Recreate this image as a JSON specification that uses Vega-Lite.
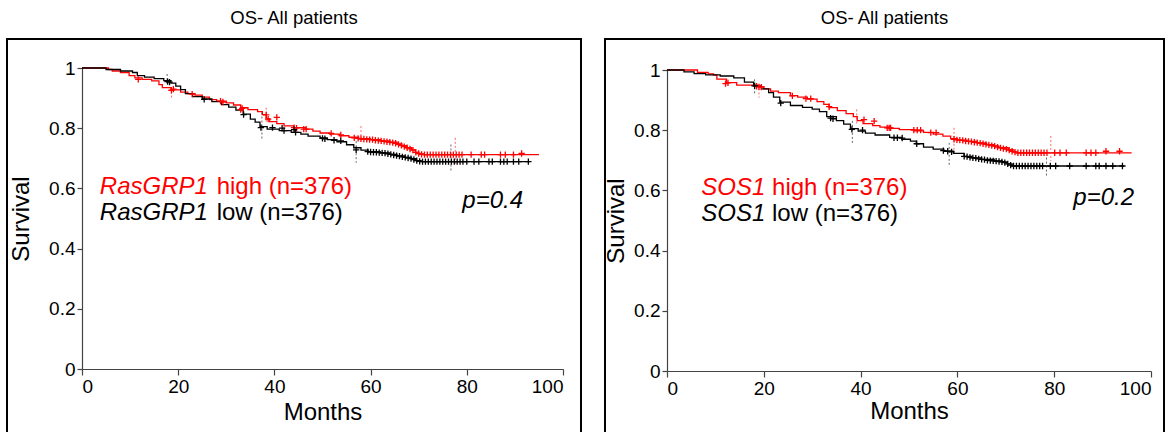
{
  "$schema": "https://vega.github.io/schema/vega-lite/v6.json",
  "padding": {"left": 6, "top": 7, "right": 7, "bottom": -8},
  "spacing": 21,
  "config": {
    "font": "Liberation Sans",
    "view": {"stroke": "#000000", "strokeWidth": 2},
    "title": {"fontSize": 18.5, "fontWeight": "normal", "font": "Liberation Sans", "color": "#000000", "offset": 12, "frame": "group", "anchor": "middle"},
    "axis": {"grid": false, "labelFont": "Liberation Sans", "titleFont": "Liberation Sans", "labelFontSize": 19, "titleFontSize": 24, "titleFontWeight": "normal", "labelColor": "#000000", "titleColor": "#000000", "domainColor": "#444444", "tickColor": "#444444", "domainWidth": 1.2, "tickWidth": 1.2},
    "text": {"font": "Liberation Sans"}
  },
  "datasets": {
    "km": [
      {"p":"A","g":"high","m":0,"s":1},{"p":"A","g":"high","m":4,"s":1},{"p":"A","g":"high","m":5.5,"s":0.995},{"p":"A","g":"high","m":6.3,"s":0.99},{"p":"A","g":"high","m":8,"s":0.985},{"p":"A","g":"high","m":9.8,"s":0.975},{"p":"A","g":"high","m":11,"s":0.967},{"p":"A","g":"high","m":12.5,"s":0.962},{"p":"A","g":"high","m":14.5,"s":0.957},{"p":"A","g":"high","m":16,"s":0.945},{"p":"A","g":"high","m":16.7,"s":0.935},{"p":"A","g":"high","m":18.5,"s":0.927},{"p":"A","g":"high","m":20.5,"s":0.92},{"p":"A","g":"high","m":22,"s":0.915},{"p":"A","g":"high","m":23.5,"s":0.91},{"p":"A","g":"high","m":25,"s":0.903},{"p":"A","g":"high","m":26.5,"s":0.895},{"p":"A","g":"high","m":28,"s":0.89},{"p":"A","g":"high","m":30,"s":0.884},{"p":"A","g":"high","m":31.5,"s":0.877},{"p":"A","g":"high","m":33,"s":0.868},{"p":"A","g":"high","m":34.5,"s":0.862},{"p":"A","g":"high","m":36.5,"s":0.855},{"p":"A","g":"high","m":37.5,"s":0.845},{"p":"A","g":"high","m":38.3,"s":0.832},{"p":"A","g":"high","m":39,"s":0.822},{"p":"A","g":"high","m":40.5,"s":0.815},{"p":"A","g":"high","m":42,"s":0.808},{"p":"A","g":"high","m":44,"s":0.802},{"p":"A","g":"high","m":46.5,"s":0.797},{"p":"A","g":"high","m":48,"s":0.79},{"p":"A","g":"high","m":49.5,"s":0.784},{"p":"A","g":"high","m":51.5,"s":0.78},{"p":"A","g":"high","m":53.5,"s":0.775},{"p":"A","g":"high","m":55.5,"s":0.77},{"p":"A","g":"high","m":57.5,"s":0.765},{"p":"A","g":"high","m":60,"s":0.762},{"p":"A","g":"high","m":62,"s":0.758},{"p":"A","g":"high","m":64,"s":0.754},{"p":"A","g":"high","m":65.5,"s":0.748},{"p":"A","g":"high","m":66.5,"s":0.742},{"p":"A","g":"high","m":67.5,"s":0.735},{"p":"A","g":"high","m":68.5,"s":0.728},{"p":"A","g":"high","m":69.3,"s":0.72},{"p":"A","g":"high","m":70,"s":0.715},{"p":"A","g":"high","m":71,"s":0.712},{"p":"A","g":"high","m":95,"s":0.712},
      {"p":"A","g":"low","m":0,"s":1},{"p":"A","g":"low","m":3,"s":1},{"p":"A","g":"low","m":5,"s":0.995},{"p":"A","g":"low","m":8,"s":0.99},{"p":"A","g":"low","m":10.5,"s":0.985},{"p":"A","g":"low","m":11.5,"s":0.975},{"p":"A","g":"low","m":13,"s":0.97},{"p":"A","g":"low","m":15,"s":0.965},{"p":"A","g":"low","m":17,"s":0.958},{"p":"A","g":"low","m":18.5,"s":0.95},{"p":"A","g":"low","m":19.5,"s":0.94},{"p":"A","g":"low","m":20.5,"s":0.928},{"p":"A","g":"low","m":21.5,"s":0.915},{"p":"A","g":"low","m":23,"s":0.905},{"p":"A","g":"low","m":25,"s":0.897},{"p":"A","g":"low","m":27,"s":0.888},{"p":"A","g":"low","m":29,"s":0.878},{"p":"A","g":"low","m":30.5,"s":0.87},{"p":"A","g":"low","m":32,"s":0.86},{"p":"A","g":"low","m":33.5,"s":0.847},{"p":"A","g":"low","m":35,"s":0.83},{"p":"A","g":"low","m":36,"s":0.82},{"p":"A","g":"low","m":37,"s":0.805},{"p":"A","g":"low","m":38.5,"s":0.797},{"p":"A","g":"low","m":41,"s":0.792},{"p":"A","g":"low","m":43.5,"s":0.786},{"p":"A","g":"low","m":45.5,"s":0.78},{"p":"A","g":"low","m":47,"s":0.774},{"p":"A","g":"low","m":49.5,"s":0.768},{"p":"A","g":"low","m":51,"s":0.762},{"p":"A","g":"low","m":53,"s":0.755},{"p":"A","g":"low","m":55,"s":0.745},{"p":"A","g":"low","m":56.5,"s":0.735},{"p":"A","g":"low","m":58,"s":0.727},{"p":"A","g":"low","m":59.5,"s":0.722},{"p":"A","g":"low","m":62,"s":0.718},{"p":"A","g":"low","m":64,"s":0.713},{"p":"A","g":"low","m":65.5,"s":0.708},{"p":"A","g":"low","m":67,"s":0.703},{"p":"A","g":"low","m":68.5,"s":0.699},{"p":"A","g":"low","m":69.5,"s":0.692},{"p":"A","g":"low","m":70.5,"s":0.689},{"p":"A","g":"low","m":93,"s":0.689},
      {"p":"B","g":"high","m":0,"s":1},{"p":"B","g":"high","m":5,"s":1},{"p":"B","g":"high","m":6.3,"s":0.992},{"p":"B","g":"high","m":8.5,"s":0.987},{"p":"B","g":"high","m":9.6,"s":0.983},{"p":"B","g":"high","m":10.3,"s":0.97},{"p":"B","g":"high","m":12.3,"s":0.958},{"p":"B","g":"high","m":14.4,"s":0.95},{"p":"B","g":"high","m":18.8,"s":0.945},{"p":"B","g":"high","m":20,"s":0.937},{"p":"B","g":"high","m":21.4,"s":0.93},{"p":"B","g":"high","m":23,"s":0.925},{"p":"B","g":"high","m":25.5,"s":0.915},{"p":"B","g":"high","m":27,"s":0.91},{"p":"B","g":"high","m":29,"s":0.903},{"p":"B","g":"high","m":31,"s":0.895},{"p":"B","g":"high","m":32.4,"s":0.886},{"p":"B","g":"high","m":33.5,"s":0.875},{"p":"B","g":"high","m":35.2,"s":0.865},{"p":"B","g":"high","m":37,"s":0.855},{"p":"B","g":"high","m":38.5,"s":0.845},{"p":"B","g":"high","m":39.3,"s":0.832},{"p":"B","g":"high","m":40.5,"s":0.822},{"p":"B","g":"high","m":42.5,"s":0.815},{"p":"B","g":"high","m":44,"s":0.81},{"p":"B","g":"high","m":46,"s":0.806},{"p":"B","g":"high","m":48,"s":0.802},{"p":"B","g":"high","m":51,"s":0.798},{"p":"B","g":"high","m":53,"s":0.793},{"p":"B","g":"high","m":55,"s":0.787},{"p":"B","g":"high","m":57,"s":0.78},{"p":"B","g":"high","m":58.6,"s":0.772},{"p":"B","g":"high","m":60,"s":0.767},{"p":"B","g":"high","m":62,"s":0.763},{"p":"B","g":"high","m":64,"s":0.758},{"p":"B","g":"high","m":66,"s":0.752},{"p":"B","g":"high","m":67.5,"s":0.748},{"p":"B","g":"high","m":68.5,"s":0.742},{"p":"B","g":"high","m":70.5,"s":0.735},{"p":"B","g":"high","m":71.5,"s":0.728},{"p":"B","g":"high","m":72.2,"s":0.725},{"p":"B","g":"high","m":96,"s":0.725},
      {"p":"B","g":"low","m":0,"s":1},{"p":"B","g":"low","m":2.5,"s":1},{"p":"B","g":"low","m":3.5,"s":0.994},{"p":"B","g":"low","m":5.6,"s":0.988},{"p":"B","g":"low","m":8,"s":0.984},{"p":"B","g":"low","m":11,"s":0.98},{"p":"B","g":"low","m":13.8,"s":0.974},{"p":"B","g":"low","m":16,"s":0.96},{"p":"B","g":"low","m":17.9,"s":0.947},{"p":"B","g":"low","m":19.5,"s":0.937},{"p":"B","g":"low","m":21,"s":0.925},{"p":"B","g":"low","m":22,"s":0.91},{"p":"B","g":"low","m":23.3,"s":0.893},{"p":"B","g":"low","m":25.5,"s":0.882},{"p":"B","g":"low","m":28,"s":0.876},{"p":"B","g":"low","m":30,"s":0.87},{"p":"B","g":"low","m":31.5,"s":0.862},{"p":"B","g":"low","m":33,"s":0.845},{"p":"B","g":"low","m":35,"s":0.832},{"p":"B","g":"low","m":36.5,"s":0.82},{"p":"B","g":"low","m":37.9,"s":0.805},{"p":"B","g":"low","m":39.5,"s":0.797},{"p":"B","g":"low","m":41,"s":0.79},{"p":"B","g":"low","m":43,"s":0.784},{"p":"B","g":"low","m":46,"s":0.776},{"p":"B","g":"low","m":48.5,"s":0.77},{"p":"B","g":"low","m":50.3,"s":0.764},{"p":"B","g":"low","m":51.5,"s":0.755},{"p":"B","g":"low","m":53,"s":0.744},{"p":"B","g":"low","m":55,"s":0.737},{"p":"B","g":"low","m":57.2,"s":0.73},{"p":"B","g":"low","m":59.2,"s":0.723},{"p":"B","g":"low","m":61.4,"s":0.713},{"p":"B","g":"low","m":63,"s":0.708},{"p":"B","g":"low","m":65,"s":0.703},{"p":"B","g":"low","m":67.6,"s":0.698},{"p":"B","g":"low","m":69.3,"s":0.695},{"p":"B","g":"low","m":70.3,"s":0.688},{"p":"B","g":"low","m":71.3,"s":0.681},{"p":"B","g":"low","m":94.4,"s":0.681}
    ],
    "cens": [
      {"p":"A","g":"high","m":11.7,"s":0.962},{"p":"A","g":"high","m":18.6,"s":0.926},{"p":"A","g":"high","m":19,"s":0.93},{"p":"A","g":"high","m":22.9,"s":0.913},{"p":"A","g":"high","m":28.8,"s":0.89},{"p":"A","g":"high","m":29.3,"s":0.887},{"p":"A","g":"high","m":33,"s":0.862},{"p":"A","g":"high","m":33.3,"s":0.866},{"p":"A","g":"high","m":38.3,"s":0.844},{"p":"A","g":"high","m":38.7,"s":0.83},{"p":"A","g":"high","m":40.5,"s":0.836},{"p":"A","g":"high","m":44.1,"s":0.802},{"p":"A","g":"high","m":44.6,"s":0.8},{"p":"A","g":"high","m":46.1,"s":0.797},{"p":"A","g":"high","m":46.6,"s":0.797},{"p":"A","g":"high","m":51.8,"s":0.783},{"p":"A","g":"high","m":53.8,"s":0.778},{"p":"A","g":"high","m":56.6,"s":0.768},{"p":"A","g":"high","m":57.4,"s":0.766},{"p":"A","g":"high","m":58,"s":0.765},{"p":"A","g":"high","m":58.6,"s":0.764},{"p":"A","g":"high","m":59.2,"s":0.763},{"p":"A","g":"high","m":59.8,"s":0.762},{"p":"A","g":"high","m":60.4,"s":0.762},{"p":"A","g":"high","m":61,"s":0.76},{"p":"A","g":"high","m":61.6,"s":0.759},{"p":"A","g":"high","m":62.2,"s":0.758},{"p":"A","g":"high","m":62.8,"s":0.756},{"p":"A","g":"high","m":63.4,"s":0.755},{"p":"A","g":"high","m":64,"s":0.754},{"p":"A","g":"high","m":64.6,"s":0.752},{"p":"A","g":"high","m":65.2,"s":0.75},{"p":"A","g":"high","m":65.8,"s":0.746},{"p":"A","g":"high","m":66.4,"s":0.743},{"p":"A","g":"high","m":67,"s":0.739},{"p":"A","g":"high","m":67.6,"s":0.735},{"p":"A","g":"high","m":68.2,"s":0.731},{"p":"A","g":"high","m":68.8,"s":0.727},{"p":"A","g":"high","m":69.4,"s":0.72},{"p":"A","g":"high","m":70,"s":0.716},{"p":"A","g":"high","m":70.6,"s":0.713},{"p":"A","g":"high","m":71.2,"s":0.712},{"p":"A","g":"high","m":71.8,"s":0.712},{"p":"A","g":"high","m":72.4,"s":0.712},{"p":"A","g":"high","m":73,"s":0.712},{"p":"A","g":"high","m":73.6,"s":0.712},{"p":"A","g":"high","m":74.2,"s":0.712},{"p":"A","g":"high","m":74.8,"s":0.712},{"p":"A","g":"high","m":75.4,"s":0.712},{"p":"A","g":"high","m":76,"s":0.712},{"p":"A","g":"high","m":76.6,"s":0.712},{"p":"A","g":"high","m":77.2,"s":0.712},{"p":"A","g":"high","m":77.8,"s":0.712},{"p":"A","g":"high","m":78.4,"s":0.712},{"p":"A","g":"high","m":79,"s":0.712},{"p":"A","g":"high","m":80.9,"s":0.712},{"p":"A","g":"high","m":83,"s":0.712},{"p":"A","g":"high","m":83.7,"s":0.712},{"p":"A","g":"high","m":87,"s":0.712},{"p":"A","g":"high","m":88,"s":0.712},{"p":"A","g":"high","m":89.7,"s":0.712},{"p":"A","g":"high","m":91.4,"s":0.716},
      {"p":"A","g":"low","m":17.8,"s":0.955},{"p":"A","g":"low","m":18.2,"s":0.953},{"p":"A","g":"low","m":25.4,"s":0.896},{"p":"A","g":"low","m":33.6,"s":0.845},{"p":"A","g":"low","m":37.2,"s":0.802},{"p":"A","g":"low","m":39.6,"s":0.802},{"p":"A","g":"low","m":41.6,"s":0.8},{"p":"A","g":"low","m":42,"s":0.792},{"p":"A","g":"low","m":44.1,"s":0.795},{"p":"A","g":"low","m":44.4,"s":0.786},{"p":"A","g":"low","m":50,"s":0.766},{"p":"A","g":"low","m":50.5,"s":0.765},{"p":"A","g":"low","m":52.4,"s":0.76},{"p":"A","g":"low","m":53.8,"s":0.758},{"p":"A","g":"low","m":57,"s":0.728},{"p":"A","g":"low","m":59.4,"s":0.722},{"p":"A","g":"low","m":60,"s":0.721},{"p":"A","g":"low","m":60.6,"s":0.72},{"p":"A","g":"low","m":61.2,"s":0.72},{"p":"A","g":"low","m":61.8,"s":0.719},{"p":"A","g":"low","m":62.4,"s":0.718},{"p":"A","g":"low","m":63,"s":0.717},{"p":"A","g":"low","m":63.6,"s":0.715},{"p":"A","g":"low","m":64.2,"s":0.713},{"p":"A","g":"low","m":64.8,"s":0.711},{"p":"A","g":"low","m":65.4,"s":0.709},{"p":"A","g":"low","m":66,"s":0.707},{"p":"A","g":"low","m":66.6,"s":0.705},{"p":"A","g":"low","m":67.2,"s":0.703},{"p":"A","g":"low","m":67.8,"s":0.701},{"p":"A","g":"low","m":68.4,"s":0.699},{"p":"A","g":"low","m":69,"s":0.696},{"p":"A","g":"low","m":69.6,"s":0.692},{"p":"A","g":"low","m":70.2,"s":0.69},{"p":"A","g":"low","m":70.8,"s":0.689},{"p":"A","g":"low","m":71.4,"s":0.689},{"p":"A","g":"low","m":72,"s":0.689},{"p":"A","g":"low","m":72.6,"s":0.689},{"p":"A","g":"low","m":73.2,"s":0.689},{"p":"A","g":"low","m":73.8,"s":0.689},{"p":"A","g":"low","m":74.4,"s":0.689},{"p":"A","g":"low","m":75,"s":0.689},{"p":"A","g":"low","m":75.6,"s":0.689},{"p":"A","g":"low","m":76.2,"s":0.689},{"p":"A","g":"low","m":76.8,"s":0.689},{"p":"A","g":"low","m":77.4,"s":0.689},{"p":"A","g":"low","m":78,"s":0.689},{"p":"A","g":"low","m":78.6,"s":0.689},{"p":"A","g":"low","m":79.2,"s":0.689},{"p":"A","g":"low","m":80,"s":0.689},{"p":"A","g":"low","m":81.5,"s":0.689},{"p":"A","g":"low","m":82.5,"s":0.689},{"p":"A","g":"low","m":84.6,"s":0.689},{"p":"A","g":"low","m":85.3,"s":0.689},{"p":"A","g":"low","m":87,"s":0.689},{"p":"A","g":"low","m":87.7,"s":0.689},{"p":"A","g":"low","m":88.4,"s":0.689},{"p":"A","g":"low","m":89.7,"s":0.689},{"p":"A","g":"low","m":90.8,"s":0.689},{"p":"A","g":"low","m":92.8,"s":0.689},
      {"p":"B","g":"high","m":12.1,"s":0.955},{"p":"B","g":"high","m":12.6,"s":0.957},{"p":"B","g":"high","m":18.5,"s":0.946},{"p":"B","g":"high","m":19,"s":0.944},{"p":"B","g":"high","m":19.5,"s":0.943},{"p":"B","g":"high","m":25.9,"s":0.914},{"p":"B","g":"high","m":28.7,"s":0.905},{"p":"B","g":"high","m":29.7,"s":0.905},{"p":"B","g":"high","m":33.5,"s":0.878},{"p":"B","g":"high","m":40.7,"s":0.835},{"p":"B","g":"high","m":42.8,"s":0.83},{"p":"B","g":"high","m":45.5,"s":0.808},{"p":"B","g":"high","m":45.9,"s":0.808},{"p":"B","g":"high","m":46.2,"s":0.808},{"p":"B","g":"high","m":51,"s":0.8},{"p":"B","g":"high","m":51.7,"s":0.8},{"p":"B","g":"high","m":52.4,"s":0.8},{"p":"B","g":"high","m":54.5,"s":0.792},{"p":"B","g":"high","m":55.6,"s":0.792},{"p":"B","g":"high","m":59.3,"s":0.77},{"p":"B","g":"high","m":59.9,"s":0.768},{"p":"B","g":"high","m":60.5,"s":0.767},{"p":"B","g":"high","m":61.1,"s":0.766},{"p":"B","g":"high","m":61.7,"s":0.764},{"p":"B","g":"high","m":62.3,"s":0.763},{"p":"B","g":"high","m":62.9,"s":0.762},{"p":"B","g":"high","m":63.5,"s":0.76},{"p":"B","g":"high","m":64.1,"s":0.759},{"p":"B","g":"high","m":64.7,"s":0.757},{"p":"B","g":"high","m":65.3,"s":0.755},{"p":"B","g":"high","m":65.9,"s":0.753},{"p":"B","g":"high","m":66.5,"s":0.751},{"p":"B","g":"high","m":67.1,"s":0.749},{"p":"B","g":"high","m":67.7,"s":0.747},{"p":"B","g":"high","m":68.3,"s":0.744},{"p":"B","g":"high","m":68.9,"s":0.741},{"p":"B","g":"high","m":69.5,"s":0.739},{"p":"B","g":"high","m":70.1,"s":0.737},{"p":"B","g":"high","m":70.7,"s":0.734},{"p":"B","g":"high","m":71.3,"s":0.73},{"p":"B","g":"high","m":71.9,"s":0.727},{"p":"B","g":"high","m":72.5,"s":0.725},{"p":"B","g":"high","m":73.1,"s":0.725},{"p":"B","g":"high","m":73.7,"s":0.725},{"p":"B","g":"high","m":74.3,"s":0.725},{"p":"B","g":"high","m":74.9,"s":0.725},{"p":"B","g":"high","m":75.5,"s":0.725},{"p":"B","g":"high","m":76.1,"s":0.725},{"p":"B","g":"high","m":76.7,"s":0.725},{"p":"B","g":"high","m":77.3,"s":0.725},{"p":"B","g":"high","m":77.9,"s":0.725},{"p":"B","g":"high","m":78.5,"s":0.725},{"p":"B","g":"high","m":80.1,"s":0.725},{"p":"B","g":"high","m":81.2,"s":0.725},{"p":"B","g":"high","m":82.5,"s":0.725},{"p":"B","g":"high","m":86.6,"s":0.725},{"p":"B","g":"high","m":87.6,"s":0.725},{"p":"B","g":"high","m":88.6,"s":0.725},{"p":"B","g":"high","m":90.7,"s":0.73},{"p":"B","g":"high","m":93.5,"s":0.73},
      {"p":"B","g":"low","m":18.1,"s":0.947},{"p":"B","g":"low","m":23.5,"s":0.89},{"p":"B","g":"low","m":33.8,"s":0.84},{"p":"B","g":"low","m":34.3,"s":0.838},{"p":"B","g":"low","m":38.2,"s":0.803},{"p":"B","g":"low","m":40.4,"s":0.8},{"p":"B","g":"low","m":46.9,"s":0.775},{"p":"B","g":"low","m":47.6,"s":0.775},{"p":"B","g":"low","m":48.6,"s":0.774},{"p":"B","g":"low","m":51.6,"s":0.755},{"p":"B","g":"low","m":57.1,"s":0.732},{"p":"B","g":"low","m":58,"s":0.73},{"p":"B","g":"low","m":58.8,"s":0.728},{"p":"B","g":"low","m":61.4,"s":0.713},{"p":"B","g":"low","m":62,"s":0.712},{"p":"B","g":"low","m":62.6,"s":0.71},{"p":"B","g":"low","m":63.2,"s":0.708},{"p":"B","g":"low","m":63.8,"s":0.707},{"p":"B","g":"low","m":64.4,"s":0.705},{"p":"B","g":"low","m":65,"s":0.703},{"p":"B","g":"low","m":65.6,"s":0.702},{"p":"B","g":"low","m":66.2,"s":0.7},{"p":"B","g":"low","m":66.8,"s":0.699},{"p":"B","g":"low","m":67.4,"s":0.698},{"p":"B","g":"low","m":68,"s":0.697},{"p":"B","g":"low","m":68.6,"s":0.696},{"p":"B","g":"low","m":69.2,"s":0.695},{"p":"B","g":"low","m":69.8,"s":0.692},{"p":"B","g":"low","m":70.4,"s":0.688},{"p":"B","g":"low","m":71,"s":0.684},{"p":"B","g":"low","m":71.6,"s":0.681},{"p":"B","g":"low","m":72.2,"s":0.681},{"p":"B","g":"low","m":72.8,"s":0.681},{"p":"B","g":"low","m":73.4,"s":0.681},{"p":"B","g":"low","m":74,"s":0.681},{"p":"B","g":"low","m":74.6,"s":0.681},{"p":"B","g":"low","m":75.2,"s":0.681},{"p":"B","g":"low","m":75.8,"s":0.681},{"p":"B","g":"low","m":76.4,"s":0.681},{"p":"B","g":"low","m":77,"s":0.681},{"p":"B","g":"low","m":77.6,"s":0.681},{"p":"B","g":"low","m":79.2,"s":0.681},{"p":"B","g":"low","m":80.3,"s":0.681},{"p":"B","g":"low","m":83.2,"s":0.681},{"p":"B","g":"low","m":86.6,"s":0.681},{"p":"B","g":"low","m":88.6,"s":0.681},{"p":"B","g":"low","m":89.3,"s":0.681},{"p":"B","g":"low","m":90.7,"s":0.681},{"p":"B","g":"low","m":92.1,"s":0.681},{"p":"B","g":"low","m":94.1,"s":0.681}
    ],
    "ci": [
      {"p":"A","g":"low","m":17.7,"s":0.98,"s2":0.947},{"p":"A","g":"low","m":37.4,"s":0.852,"s2":0.763},{"p":"A","g":"low","m":57,"s":0.757,"s2":0.685},{"p":"A","g":"low","m":76.7,"s":0.746,"s2":0.658},
      {"p":"A","g":"high","m":18.6,"s":0.935,"s2":0.9},{"p":"A","g":"high","m":38.3,"s":0.868,"s2":0.818},{"p":"A","g":"high","m":58,"s":0.807,"s2":0.757},{"p":"A","g":"high","m":77.6,"s":0.768,"s2":0.68},
      {"p":"B","g":"low","m":18.1,"s":0.969,"s2":0.919},{"p":"B","g":"low","m":38.3,"s":0.831,"s2":0.758},{"p":"B","g":"low","m":58.3,"s":0.758,"s2":0.681},{"p":"B","g":"low","m":78.4,"s":0.709,"s2":0.648},
      {"p":"B","g":"high","m":19,"s":0.952,"s2":0.908},{"p":"B","g":"high","m":39.2,"s":0.869,"s2":0.82},{"p":"B","g":"high","m":59.3,"s":0.808,"s2":0.731},{"p":"B","g":"high","m":79.3,"s":0.781,"s2":0.698}
    ]
  },
  "hconcat": [
    {
      "width": 574,
      "height": 400,
      "title": "OS- All patients",
      "layer": [
        {"data": {"name": "km"}, "transform": [{"filter": "datum.p === 'A'"}], "mark": {"type": "line", "interpolate": "step-after", "strokeWidth": 1.3},
         "encoding": {
           "x": {"field": "m", "type": "quantitative", "scale": {"domain": [0, 100], "range": [75, 556], "nice": false, "zero": false}, "axis": {"values": [0, 20, 40, 60, 80, 100], "offset": -70, "tickSize": 6, "labelPadding": 2, "title": "Months", "titleY": 43, "titleBaseline": "middle"}},
           "y": {"field": "s", "type": "quantitative", "scale": {"domain": [0, 1], "range": [330, 29], "nice": false, "zero": false}, "axis": {"values": [0, 0.2, 0.4, 0.6, 0.8, 1], "format": "~g", "offset": -75, "tickSize": 5, "labelPadding": 2, "title": "Survival", "titleX": -61, "titleBaseline": "middle"}},
           "color": {"field": "g", "type": "nominal", "scale": {"domain": ["high", "low"], "range": ["#ff0000", "#000000"]}, "legend": null}}},
        {"data": {"name": "ci"}, "transform": [{"filter": "datum.p === 'A'"}], "mark": {"type": "rule", "strokeDash": [2, 2], "strokeWidth": 1, "opacity": 0.6},
         "encoding": {"x": {"field": "m", "type": "quantitative"}, "y": {"field": "s", "type": "quantitative"}, "y2": {"field": "s2"}, "color": {"field": "g", "type": "nominal", "legend": null}}},
        {"data": {"name": "cens"}, "transform": [{"filter": "datum.p === 'A'"}], "mark": {"type": "point", "shape": "M-1,0H1M0,-1V1", "filled": false, "size": 40, "strokeWidth": 1.3, "opacity": 1},
         "encoding": {"x": {"field": "m", "type": "quantitative"}, "y": {"field": "s", "type": "quantitative"}, "color": {"field": "g", "type": "nominal", "legend": null}}},
        {"data": {"values": [{}]}, "mark": {"type": "text", "text": "RasGRP1", "fontStyle": "italic", "fontSize": 24, "align": "left", "baseline": "middle", "color": "#ff0000"}, "encoding": {"x": {"datum": 3.7, "type": "quantitative"}, "y": {"datum": 0.605, "type": "quantitative"}}},
        {"data": {"values": [{}]}, "mark": {"type": "text", "text": "high (n=376)", "fontSize": 24, "align": "left", "baseline": "middle", "color": "#ff0000"}, "encoding": {"x": {"datum": 28, "type": "quantitative"}, "y": {"datum": 0.605, "type": "quantitative"}}},
        {"data": {"values": [{}]}, "mark": {"type": "text", "text": "RasGRP1", "fontStyle": "italic", "fontSize": 24, "align": "left", "baseline": "middle", "color": "#000000"}, "encoding": {"x": {"datum": 3.7, "type": "quantitative"}, "y": {"datum": 0.518, "type": "quantitative"}}},
        {"data": {"values": [{}]}, "mark": {"type": "text", "text": "low (n=376)", "fontSize": 24, "align": "left", "baseline": "middle", "color": "#000000"}, "encoding": {"x": {"datum": 28, "type": "quantitative"}, "y": {"datum": 0.518, "type": "quantitative"}}},
        {"data": {"values": [{}]}, "mark": {"type": "text", "text": "p=0.4", "fontStyle": "italic", "fontSize": 24, "align": "right", "baseline": "middle", "color": "#000000"}, "encoding": {"x": {"datum": 91.7, "type": "quantitative"}, "y": {"datum": 0.558, "type": "quantitative"}}}
      ]
    },
    {
      "width": 559,
      "height": 400,
      "title": "OS- All patients",
      "layer": [
        {"data": {"name": "km"}, "transform": [{"filter": "datum.p === 'B'"}], "mark": {"type": "line", "interpolate": "step-after", "strokeWidth": 1.3},
         "encoding": {
           "x": {"field": "m", "type": "quantitative", "scale": {"domain": [0, 100], "range": [62, 546], "nice": false, "zero": false}, "axis": {"values": [0, 20, 40, 60, 80, 100], "offset": -68, "tickSize": 6, "labelPadding": 2, "title": "Months", "titleY": 40, "titleBaseline": "middle"}},
           "y": {"field": "s", "type": "quantitative", "scale": {"domain": [0, 1], "range": [332, 31], "nice": false, "zero": false}, "axis": {"values": [0, 0.2, 0.4, 0.6, 0.8, 1], "format": "~g", "offset": -62, "tickSize": 5, "labelPadding": 2, "title": "Survival", "titleX": -51, "titleBaseline": "middle"}},
           "color": {"field": "g", "type": "nominal", "scale": {"domain": ["high", "low"], "range": ["#ff0000", "#000000"]}, "legend": null}}},
        {"data": {"name": "ci"}, "transform": [{"filter": "datum.p === 'B'"}], "mark": {"type": "rule", "strokeDash": [2, 2], "strokeWidth": 1, "opacity": 0.6},
         "encoding": {"x": {"field": "m", "type": "quantitative"}, "y": {"field": "s", "type": "quantitative"}, "y2": {"field": "s2"}, "color": {"field": "g", "type": "nominal", "legend": null}}},
        {"data": {"name": "cens"}, "transform": [{"filter": "datum.p === 'B'"}], "mark": {"type": "point", "shape": "M-1,0H1M0,-1V1", "filled": false, "size": 40, "strokeWidth": 1.3, "opacity": 1},
         "encoding": {"x": {"field": "m", "type": "quantitative"}, "y": {"field": "s", "type": "quantitative"}, "color": {"field": "g", "type": "nominal", "legend": null}}},
        {"data": {"values": [{}]}, "mark": {"type": "text", "text": "SOS1", "fontStyle": "italic", "fontSize": 24, "align": "left", "baseline": "middle", "color": "#ff0000"}, "encoding": {"x": {"datum": 7.1, "type": "quantitative"}, "y": {"datum": 0.608, "type": "quantitative"}}},
        {"data": {"values": [{}]}, "mark": {"type": "text", "text": "high (n=376)", "fontSize": 24, "align": "left", "baseline": "middle", "color": "#ff0000"}, "encoding": {"x": {"datum": 21.7, "type": "quantitative"}, "y": {"datum": 0.608, "type": "quantitative"}}},
        {"data": {"values": [{}]}, "mark": {"type": "text", "text": "SOS1", "fontStyle": "italic", "fontSize": 24, "align": "left", "baseline": "middle", "color": "#000000"}, "encoding": {"x": {"datum": 7.1, "type": "quantitative"}, "y": {"datum": 0.522, "type": "quantitative"}}},
        {"data": {"values": [{}]}, "mark": {"type": "text", "text": "low (n=376)", "fontSize": 24, "align": "left", "baseline": "middle", "color": "#000000"}, "encoding": {"x": {"datum": 21.7, "type": "quantitative"}, "y": {"datum": 0.522, "type": "quantitative"}}},
        {"data": {"values": [{}]}, "mark": {"type": "text", "text": "p=0.2", "fontStyle": "italic", "fontSize": 24, "align": "right", "baseline": "middle", "color": "#000000"}, "encoding": {"x": {"datum": 96.5, "type": "quantitative"}, "y": {"datum": 0.575, "type": "quantitative"}}}
      ]
    }
  ]
}
